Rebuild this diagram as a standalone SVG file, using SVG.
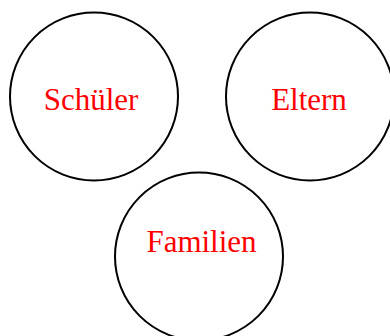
<svg xmlns="http://www.w3.org/2000/svg" width="390" height="336" viewBox="0 0 390 336">
<style>
.c{fill:none;stroke:#000;stroke-width:2}
.t{font-family:"Liberation Serif","Times New Roman",serif;font-size:31px;fill:#ff0000;text-anchor:middle}
</style>
<rect width="390" height="336" fill="#fff"/>
<g id="schueler"><circle class="c" cx="94" cy="96.5" r="84"/><text class="t" x="91" y="109.5">Schüler</text></g>
<g id="eltern"><circle class="c" cx="310" cy="96.5" r="84"/><text class="t" x="309" y="109.5">Eltern</text></g>
<g id="familien"><circle class="c" cx="199" cy="256.5" r="84"/><text class="t" x="201.5" y="251.5">Familien</text></g>
<g id="connectors"></g>
</svg>
